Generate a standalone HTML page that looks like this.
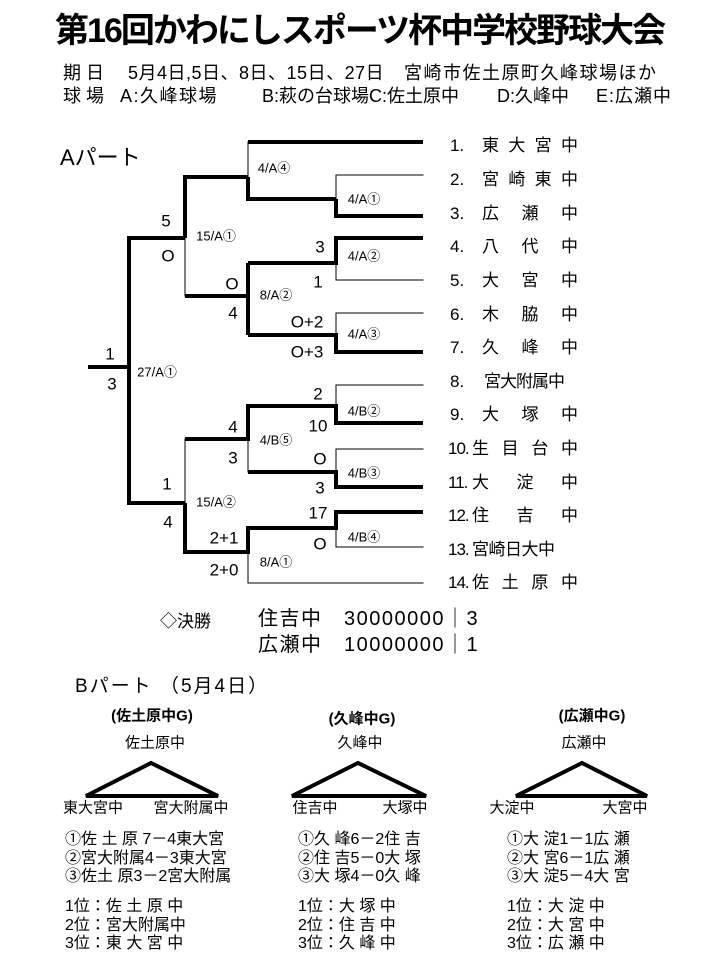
<!DOCTYPE html>
<html><head><meta charset="utf-8"><style>
body{margin:0;background:#fff;}
#p{position:relative;width:719px;height:959px;overflow:hidden;font-family:"Liberation Sans","Noto Sans CJK JP",sans-serif;color:#000;}
.a{position:absolute;white-space:nowrap;line-height:1;}
.c{position:absolute;white-space:nowrap;line-height:1;transform:translate(-50%,-50%);}
.s{font-size:13px;}
.n{font-size:17px;}
.t{position:absolute;font-size:17px;line-height:1;white-space:nowrap;}
.nm{position:absolute;display:flex;justify-content:space-between;font-size:17px;line-height:1;}
.i{position:absolute;white-space:nowrap;line-height:1;font-size:18px;}
</style></head><body><div id="p">
<svg width="719" height="959" style="position:absolute;left:0;top:0">
<g stroke="#000" fill="none" stroke-linecap="square">
<g stroke-width="1">
<line x1="248" y1="142" x2="248" y2="177"/>
<line x1="336" y1="175" x2="423" y2="175"/>
<line x1="336" y1="175" x2="336" y2="199"/>
<line x1="185" y1="238" x2="185" y2="296"/>
<line x1="336" y1="263" x2="336" y2="280"/>
<line x1="336" y1="280" x2="423" y2="280"/>
<line x1="336" y1="313" x2="423" y2="313"/>
<line x1="336" y1="313" x2="336" y2="335"/>
<line x1="336" y1="385" x2="423" y2="385"/>
<line x1="336" y1="385" x2="336" y2="406"/>
<line x1="248" y1="440" x2="248" y2="472"/>
<line x1="336" y1="449" x2="423" y2="449"/>
<line x1="336" y1="449" x2="336" y2="472"/>
<line x1="185" y1="439" x2="185" y2="503"/>
<line x1="336" y1="528" x2="336" y2="547"/>
<line x1="336" y1="547" x2="423" y2="547"/>
<line x1="248" y1="552" x2="248" y2="583"/>
<line x1="248" y1="583" x2="423" y2="583"/>
</g>
<g stroke-width="4" stroke-linecap="butt">
<path d="M248 142H423"/>
<path d="M248 177V199H336"/>
<path d="M185 238V177H248"/>
<path d="M336 199V216H423"/>
<path d="M129 238H185"/>
<path d="M185 296H248"/>
<path d="M248 263V335"/>
<path d="M248 263H336V238H423"/>
<path d="M248 335H336V352H423"/>
<path d="M129 236V503H185"/>
<path d="M88 367H131"/>
<path d="M185 439H248V406H336V423H423"/>
<path d="M248 472H336V487H423"/>
<path d="M185 503V552H248V528H336V512H423"/>
</g>
<g stroke-width="4" stroke-linejoin="miter">
<path d="M86 796L151 763L218 796Z"/>
<path d="M292 796L358 763L426 796Z"/>
<path d="M516 796L582 763L647 796Z"/>
</g>
</g>
</svg>

<div class="a" style="left:55px;top:14px;font-size:34px;font-weight:bold;letter-spacing:-2px;">第16回かわにしスポーツ杯中学校野球大会</div>
<div class="i" style="left:63px;top:64px;">期 日</div>
<div class="i" style="left:128px;top:64px;letter-spacing:0.5px">5月4日,5日、8日、15日、27日</div>
<div class="i" style="left:404px;top:64px;letter-spacing:1.5px">宮崎市佐土原町久峰球場ほか</div>
<div class="i" style="left:63px;top:87px;">球 場</div>
<div class="i" style="left:120px;top:87px;letter-spacing:1.5px">A:久峰球場</div>
<div class="i" style="left:262px;top:87px;">B:萩の台球場C:佐土原中</div>
<div class="i" style="left:497px;top:87px;">D:久峰中</div>
<div class="i" style="left:596px;top:87px;letter-spacing:1px">E:広瀬中</div>
<div class="a" style="left:60px;top:147px;font-size:22px;">Aパート</div>

<div class="c s" style="left:274px;top:168px">4/A④</div>
<div class="c s" style="left:364px;top:199px">4/A①</div>
<div class="c n" style="left:166px;top:221px">5</div>
<div class="c n" style="left:168px;top:256px">O</div>
<div class="c s" style="left:216px;top:236px">15/A①</div>
<div class="c n" style="left:320px;top:247px">3</div>
<div class="c s" style="left:364px;top:256px">4/A②</div>
<div class="c n" style="left:232px;top:284px">O</div>
<div class="c n" style="left:318px;top:282px">1</div>
<div class="c s" style="left:276px;top:295px">8/A②</div>
<div class="c n" style="left:233px;top:313px">4</div>
<div class="c n" style="left:307px;top:322px">O+2</div>
<div class="c s" style="left:364px;top:334px">4/A③</div>
<div class="c n" style="left:110px;top:354px">1</div>
<div class="c n" style="left:307px;top:352px">O+3</div>
<div class="c s" style="left:157px;top:372px">27/A①</div>
<div class="c n" style="left:112px;top:384px">3</div>

<div class="c n" style="left:318px;top:394px">2</div>
<div class="c s" style="left:364px;top:411px">4/B②</div>
<div class="c n" style="left:318px;top:426px">10</div>
<div class="c n" style="left:233px;top:427px">4</div>
<div class="c s" style="left:276px;top:440px">4/B⑤</div>
<div class="c n" style="left:233px;top:458px">3</div>
<div class="c n" style="left:320px;top:459px">O</div>
<div class="c s" style="left:364px;top:473px">4/B③</div>
<div class="c n" style="left:320px;top:488px">3</div>
<div class="c n" style="left:167px;top:484px">1</div>
<div class="c s" style="left:216px;top:502px">15/A②</div>
<div class="c n" style="left:168px;top:522px">4</div>
<div class="c n" style="left:318px;top:513px">17</div>
<div class="c s" style="left:364px;top:537px">4/B④</div>
<div class="c n" style="left:224px;top:538px">2+1</div>
<div class="c n" style="left:320px;top:544px">O</div>
<div class="c n" style="left:224px;top:570px">2+0</div>
<div class="c s" style="left:276px;top:562px">8/A①</div>

<div class="t" style="left:450px;top:137px">1.</div><div class="nm" style="left:482px;top:137px;width:96px"><span>東</span><span>大</span><span>宮</span><span>中</span></div>
<div class="t" style="left:450px;top:171px">2.</div><div class="nm" style="left:482px;top:171px;width:96px"><span>宮</span><span>崎</span><span>東</span><span>中</span></div>
<div class="t" style="left:450px;top:205px">3.</div><div class="nm" style="left:482px;top:205px;width:96px"><span>広</span><span>瀬</span><span>中</span></div>
<div class="t" style="left:450px;top:238px">4.</div><div class="nm" style="left:482px;top:238px;width:96px"><span>八</span><span>代</span><span>中</span></div>
<div class="t" style="left:450px;top:272px">5.</div><div class="nm" style="left:482px;top:272px;width:96px"><span>大</span><span>宮</span><span>中</span></div>
<div class="t" style="left:450px;top:306px">6.</div><div class="nm" style="left:482px;top:306px;width:96px"><span>木</span><span>脇</span><span>中</span></div>
<div class="t" style="left:450px;top:339px">7.</div><div class="nm" style="left:482px;top:339px;width:96px"><span>久</span><span>峰</span><span>中</span></div>
<div class="t" style="left:450px;top:373px">8.</div><div class="t" style="left:484px;top:373px;letter-spacing:-1px">宮大附属中</div>
<div class="t" style="left:450px;top:406px">9.</div><div class="nm" style="left:482px;top:406px;width:96px"><span>大</span><span>塚</span><span>中</span></div>
<div class="t" style="left:448px;top:440px;letter-spacing:-1px">10.</div><div class="nm" style="left:472px;top:440px;width:106px"><span>生</span><span>目</span><span>台</span><span>中</span></div>
<div class="t" style="left:448px;top:474px;letter-spacing:-1px">11.</div><div class="nm" style="left:472px;top:474px;width:106px"><span>大</span><span>淀</span><span>中</span></div>
<div class="t" style="left:448px;top:507px;letter-spacing:-1px">12.</div><div class="nm" style="left:472px;top:507px;width:106px"><span>住</span><span>吉</span><span>中</span></div>
<div class="t" style="left:448px;top:541px;letter-spacing:-1px">13.</div><div class="t" style="left:472px;top:541px;letter-spacing:-0.5px">宮崎日大中</div>
<div class="t" style="left:448px;top:574px;letter-spacing:-1px">14.</div><div class="nm" style="left:472px;top:574px;width:106px"><span>佐</span><span>土</span><span>原</span><span>中</span></div>

<div class="a" style="left:160px;top:613px;font-size:17px;">◇決勝</div>
<div class="a" style="left:258px;top:609px;font-size:20px;letter-spacing:1.5px;">住吉中　30000000｜3</div>
<div class="a" style="left:258px;top:635px;font-size:20px;letter-spacing:1.5px;">広瀬中　10000000｜1</div>
<div class="a" style="left:75px;top:677px;font-size:19px;letter-spacing:2px;">Bパート （5月4日）</div>

<div class="c" style="left:152px;top:716px;font-size:15px;font-weight:bold">(佐土原中G)</div>
<div class="c" style="left:362px;top:719px;font-size:15px;font-weight:bold">(久峰中G)</div>
<div class="c" style="left:592px;top:716px;font-size:15px;font-weight:bold">(広瀬中G)</div>
<div class="c" style="left:155px;top:743px;font-size:15px">佐土原中</div>
<div class="c" style="left:360px;top:743px;font-size:15px">久峰中</div>
<div class="c" style="left:584px;top:743px;font-size:15px">広瀬中</div>
<div class="c" style="left:93px;top:808px;font-size:15px">東大宮中</div>
<div class="c" style="left:191px;top:808px;font-size:15px">宮大附属中</div>
<div class="c" style="left:315px;top:808px;font-size:15px">住吉中</div>
<div class="c" style="left:405px;top:808px;font-size:15px">大塚中</div>
<div class="c" style="left:512px;top:808px;font-size:15px">大淀中</div>
<div class="c" style="left:625px;top:808px;font-size:15px">大宮中</div>

<div class="a" style="left:65px;top:831px;font-size:16px;line-height:18.5px">①佐 土 原 7－4東大宮<br>②宮大附属4－3東大宮<br>③佐土 原3－2宮大附属</div>
<div class="a" style="left:298px;top:831px;font-size:16px;line-height:18.5px">①久 峰6－2住 吉<br>②住 吉5－0大 塚<br>③大 塚4－0久 峰</div>
<div class="a" style="left:507px;top:831px;font-size:16px;line-height:18.5px">①大 淀1－1広 瀬<br>②大 宮6－1広 瀬<br>③大 淀5－4大 宮</div>
<div class="a" style="left:65px;top:898px;font-size:16px;line-height:18.5px">1位：佐 土 原 中<br>2位：宮大附属中<br>3位：東 大 宮 中</div>
<div class="a" style="left:298px;top:898px;font-size:16px;line-height:18.5px">1位：大 塚 中<br>2位：住 吉 中<br>3位：久 峰 中</div>
<div class="a" style="left:507px;top:898px;font-size:16px;line-height:18.5px">1位：大 淀 中<br>2位：大 宮 中<br>3位：広 瀬 中</div>
</div></body></html>
